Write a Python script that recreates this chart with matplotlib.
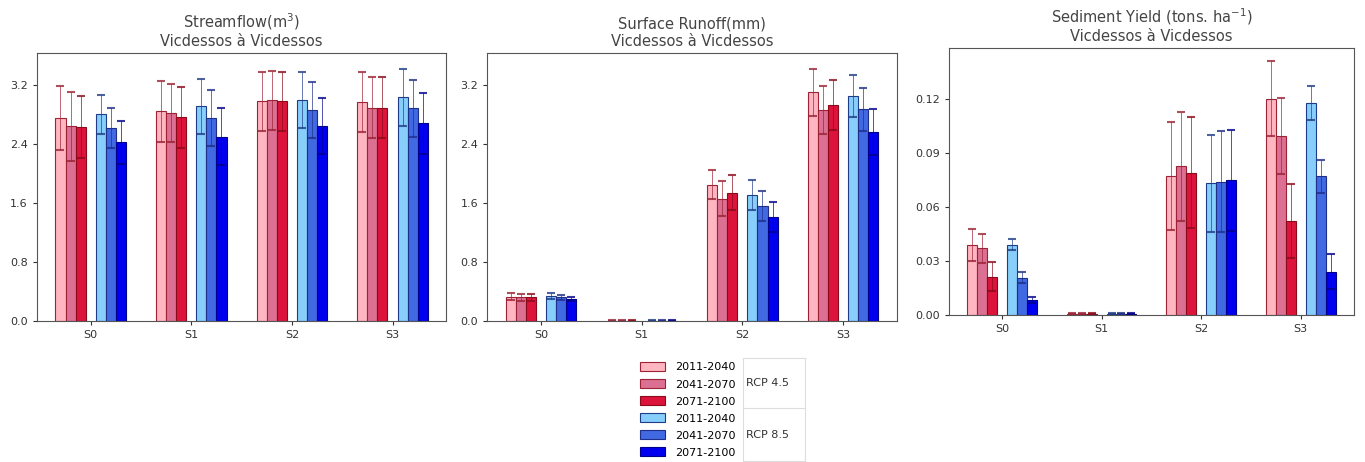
import numpy as np
import matplotlib.pyplot as plt

scenarios = ['S0', 'S1', 'S2', 'S3']
periods = ['2011-2040', '2041-2070', '2071-2100', '2011-2040', '2041-2070', '2071-2100']
colors = ['#ffb6c1', '#db7093', '#dc143c', '#87cefa', '#4169e1', '#0000ee']
edges = ['#9b2335', '#9b2335', '#8b0a1a', '#1f3c88', '#1f2f88', '#00008b']

# one row per period (bar series), one column per scenario
flow = [[2.75, 2.84, 2.98, 2.97],
        [2.64, 2.82, 2.99, 2.89],
        [2.63, 2.76, 2.98, 2.89],
        [2.80, 2.91, 3.00, 3.03],
        [2.62, 2.75, 2.86, 2.88],
        [2.42, 2.50, 2.64, 2.68]]
flow_err = [[0.43, 0.41, 0.40, 0.41],
            [0.47, 0.39, 0.40, 0.41],
            [0.42, 0.41, 0.40, 0.41],
            [0.26, 0.37, 0.38, 0.39],
            [0.27, 0.38, 0.38, 0.38],
            [0.29, 0.39, 0.38, 0.41]]

runoff = [[0.33, 0.006, 1.85, 3.10],
          [0.32, 0.006, 1.66, 2.86],
          [0.32, 0.006, 1.74, 2.93],
          [0.34, 0.006, 1.71, 3.05],
          [0.32, 0.006, 1.56, 2.87],
          [0.30, 0.006, 1.41, 2.56]]
runoff_err = [[0.05, 0.002, 0.20, 0.32],
              [0.05, 0.002, 0.24, 0.33],
              [0.05, 0.002, 0.24, 0.34],
              [0.04, 0.002, 0.20, 0.29],
              [0.03, 0.002, 0.20, 0.29],
              [0.03, 0.002, 0.20, 0.31]]

sediment = [[0.0389, 0.0008, 0.0769, 0.1200],
            [0.0370, 0.0008, 0.0824, 0.0994],
            [0.0213, 0.0008, 0.0790, 0.0522],
            [0.0389, 0.0008, 0.0730, 0.1176],
            [0.0207, 0.0008, 0.0740, 0.0769],
            [0.0083, 0.0008, 0.0746, 0.0240]]
sediment_err = [[0.0087, 0.0002, 0.0300, 0.0210],
                [0.0080, 0.0002, 0.0300, 0.0210],
                [0.0080, 0.0002, 0.0310, 0.0205],
                [0.0030, 0.0002, 0.0270, 0.0095],
                [0.0030, 0.0002, 0.0280, 0.0090],
                [0.0015, 0.0002, 0.0280, 0.0097]]

titles = ['Streamflow(m$^3$)\nVicdessos à Vicdessos',
          'Surface Runoff(mm)\nVicdessos à Vicdessos',
          'Sediment Yield (tons. ha$^{-1}$)\nVicdessos à Vicdessos']

fig = plt.figure(figsize=(13.65, 4.62), dpi=100)
ax1 = fig.add_axes([0.027, 0.305, 0.300, 0.580])
ax2 = fig.add_axes([0.357, 0.305, 0.300, 0.580])
ax3 = fig.add_axes([0.695, 0.318, 0.297, 0.578])

x = np.arange(len(scenarios))
w = 0.1
offsets = [-0.3, -0.2, -0.1, 0.1, 0.2, 0.3]

handles = []
for ax, vals, errs, title in zip([ax1, ax2, ax3], [flow, runoff, sediment],
                                  [flow_err, runoff_err, sediment_err], titles):
    for i in range(6):
        b = ax.bar(x + offsets[i], vals[i], w, color=colors[i], edgecolor=edges[i],
                   linewidth=0.8, yerr=errs[i], capsize=3,
                   error_kw=dict(ecolor=edges[i], elinewidth=0.6, capthick=1.5, alpha=0.8))
        if ax is ax1:
            handles.append(b)
    ax.set_xticks(x)
    ax.set_xticklabels(scenarios)
    ax.set_title(title, fontsize=10.5, color='#444444', pad=5)
    ax.tick_params(labelsize=8, colors='#333333', length=3)
    for s in ax.spines.values():
        s.set_color('#555555')

ax1.set_ylim(0, 3.63)
ax2.set_ylim(0, 3.63)
for ax in [ax1, ax2]:
    ax.set_yticks([0, 0.8, 1.6, 2.4, 3.2])
    ax.set_yticklabels(['0.0', '0.8', '1.6', '2.4', '3.2'])
ax3.set_ylim(0, 0.148)
ax3.set_yticks([0, 0.03, 0.06, 0.09, 0.12])
ax3.set_yticklabels(['0.00', '0.03', '0.06', '0.09', '0.12'])

leg = fig.legend(handles, periods, loc='upper left', bbox_to_anchor=(0.4646, 0.228),
                 frameon=False, fontsize=8, handlelength=2.25, handleheight=0.85,
                 labelspacing=0.61, borderpad=0, handletextpad=0.9)

# group box with RCP labels
x0, x1 = 743 / 1365, 805 / 1365
ytop, ymid, ybot = 1 - 358 / 462, 1 - 408 / 462, 1 - 461 / 462
for yy in [ytop, ymid, ybot]:
    fig.add_artist(plt.Line2D([x0, x1], [yy, yy], color='#dddddd', lw=0.8))
for xx in [x0, x1]:
    fig.add_artist(plt.Line2D([xx, xx], [ybot, ytop], color='#dddddd', lw=0.8))
fig.text(x0 + 0.002, 1 - 383 / 462, 'RCP 4.5', fontsize=8, va='center', color='#333333')
fig.text(x0 + 0.002, 1 - 435 / 462, 'RCP 8.5', fontsize=8, va='center', color='#333333')

fig.savefig('out.png', dpi=100)
